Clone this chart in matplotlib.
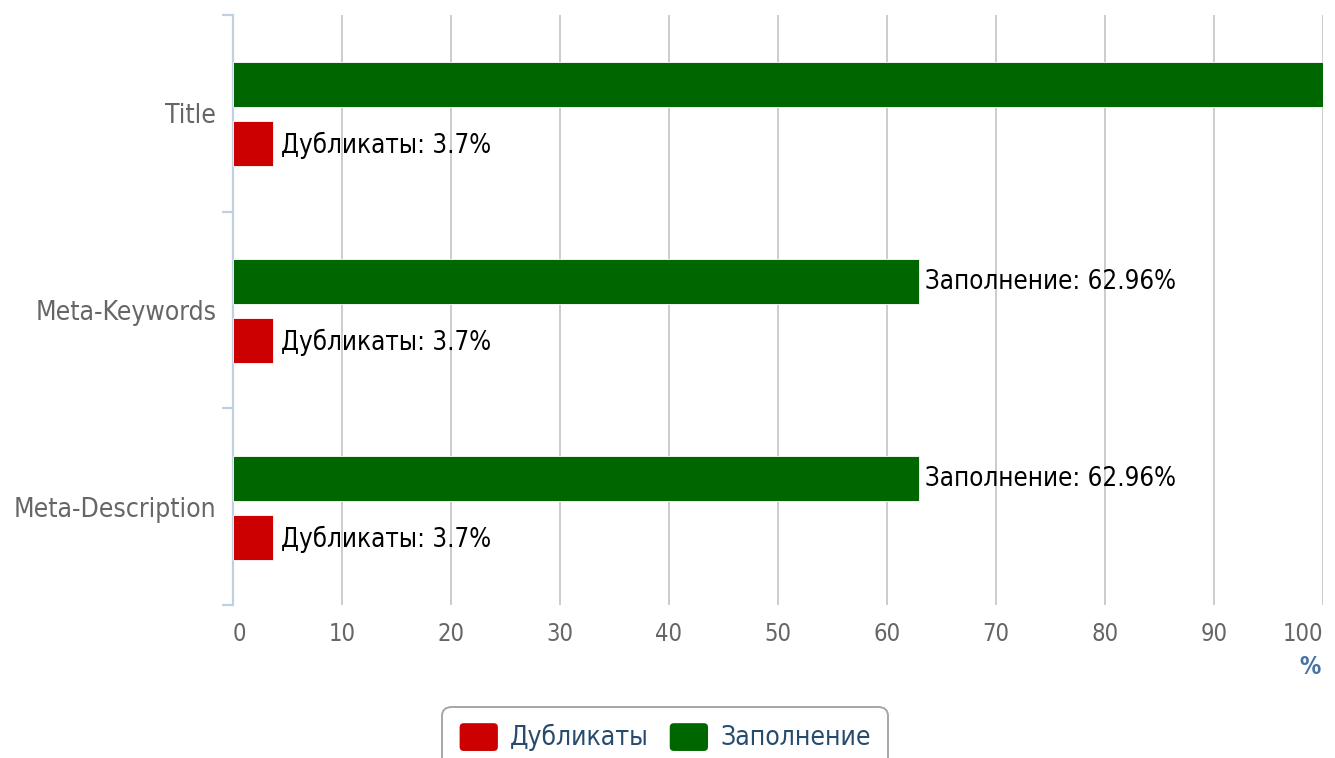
import numpy as np
import matplotlib.pyplot as plt
from matplotlib.patches import Patch, FancyBboxPatch
from matplotlib.legend_handler import HandlerPatch

plt.rcParams['font.family'] = ['DejaVu Sans']
plt.rcParams['font.stretch'] = 'condensed'

categories = ['Title', 'Meta-Keywords', 'Meta-Description']
fill_values = [100, 62.96, 62.96]
dup_values = [3.7, 3.7, 3.7]
fill_labels = ['', 'Заполнение: 62.96%', 'Заполнение: 62.96%']
dup_labels = ['Дубликаты: 3.7%', 'Дубликаты: 3.7%', 'Дубликаты: 3.7%']
xticks = [0, 10, 20, 30, 40, 50, 60, 70, 80, 90, 100]

red = '#CC0000'
green = '#006600'


class RoundHandler(HandlerPatch):
    def create_artists(self, legend, orig_handle, xdescent, ydescent, width, height, fontsize, trans):
        p = FancyBboxPatch((-xdescent, -ydescent - 2), width, height + 3,
                           boxstyle='round,pad=0,rounding_size=3',
                           facecolor=orig_handle.get_facecolor(), edgecolor='none', transform=trans)
        return [p]


fig = plt.figure(figsize=(13.35, 7.58), dpi=100)
ax = fig.add_axes([233 / 1335, 1 - 605 / 758, 1090 / 1335, 590 / 758])

y = np.arange(len(categories))
h = 0.228
ax.barh(y - 0.145, fill_values, height=h, color=green, edgecolor='white', linewidth=0.6, zorder=3)
ax.barh(y + 0.155, dup_values, height=h, color=red, edgecolor='white', linewidth=0.6, zorder=3)

for i in range(len(categories)):
    if fill_labels[i]:
        ax.annotate(fill_labels[i], (fill_values[i], y[i] - 0.145), xytext=(6, -1),
                    textcoords='offset pixels', va='center', ha='left', fontsize=18.5, color='black')
    ax.annotate(dup_labels[i], (dup_values[i], y[i] + 0.155), xytext=(8, -2),
                textcoords='offset pixels', va='center', ha='left', fontsize=18.5, color='black')

ax.set_xlim(0, 100)
ax.set_ylim(2.5, -0.5)
ax.set_xticks(xticks)
ax.set_yticks(y)
ax.set_yticklabels(categories)
ax.set_yticks([-0.5, 0.5, 1.5, 2.5], minor=True)

ax.grid(axis='x', color='#C8C8C8', linewidth=1.3, zorder=0)
ax.set_axisbelow(True)
for s in ['top', 'right', 'bottom']:
    ax.spines[s].set_visible(False)
ax.spines['left'].set_color('#C0D0E0')
ax.spines['left'].set_linewidth(1.6)

ax.tick_params(axis='x', length=0, pad=12, labelsize=17, labelcolor='#666666')
ax.tick_params(axis='y', which='major', length=0, pad=12, labelsize=19, labelcolor='#666666')
ax.tick_params(axis='y', which='minor', length=8, width=1.6, color='#C0D0E0')

xl = ax.get_xticklabels()
xl[0].set_ha('left')
xl[-1].set_ha('right')

fig.text(1310 / 1335, 1 - 667 / 758, '%', ha='center', va='center', fontsize=17,
         color='#4572A7', fontweight='bold')

handles = [Patch(facecolor=red), Patch(facecolor=green)]
leg = fig.legend(handles, ['Дубликаты', 'Заполнение'], loc='upper center',
                 bbox_to_anchor=(665 / 1335, 1 - 707 / 758), ncol=2, frameon=True,
                 fancybox=True, fontsize=19, labelcolor='#274B6D', edgecolor='#909090',
                 handlelength=1.45, handleheight=1.0, handletextpad=0.45, columnspacing=0.8,
                 borderpad=0.65, borderaxespad=0, handler_map={Patch: RoundHandler()})
leg.get_frame().set_linewidth(1.4)
leg.get_frame().set_boxstyle('round,pad=0,rounding_size=0.35')

fig.savefig('out.png', dpi=100)
